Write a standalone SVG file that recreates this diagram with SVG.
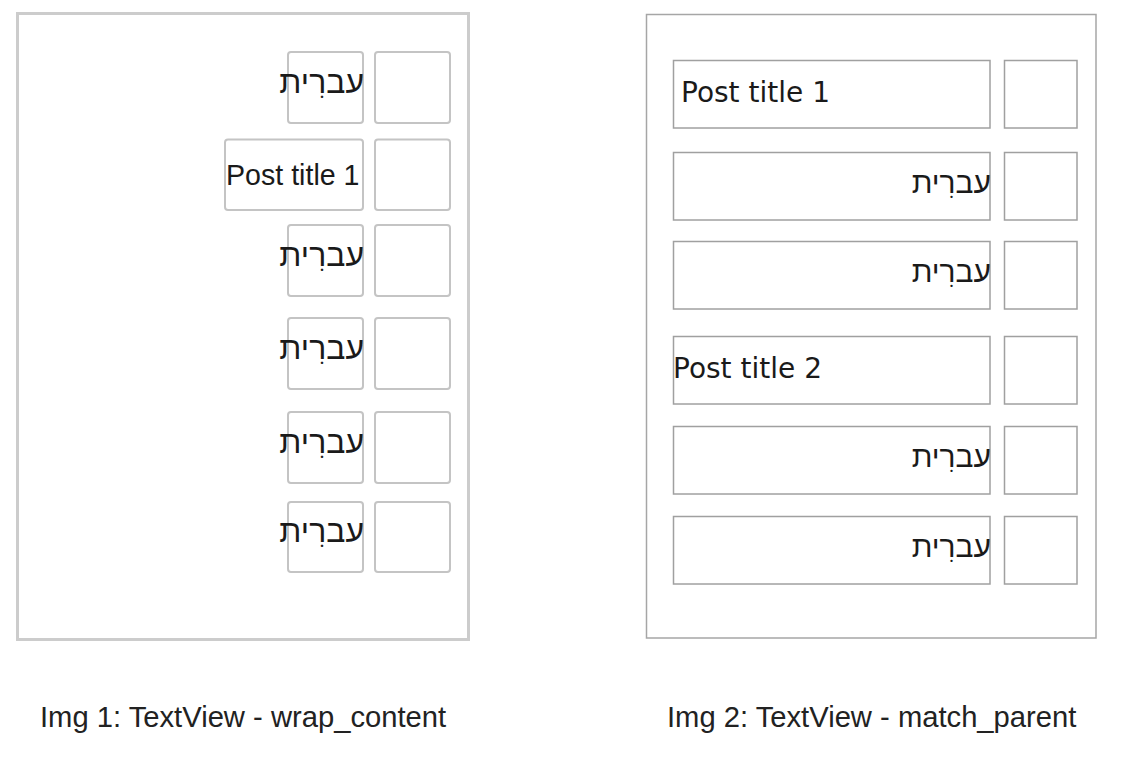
<svg xmlns="http://www.w3.org/2000/svg" width="1130" height="762" viewBox="0 0 1130 762">
  <style>
    .frame1 { fill: #ffffff; stroke: #cccccc; stroke-width: 3; }
    .frame2 { fill: #ffffff; stroke: #a6a6a6; stroke-width: 1.5; }
    .box1 { fill: #ffffff; stroke: #c4c4c4; stroke-width: 2; }
    .box2 { fill: #ffffff; stroke: #a0a0a0; stroke-width: 1.5; }
    .t1 { font-family: "Liberation Sans", Arial, sans-serif; font-size: 28.6px; fill: #1a1a1a; }
    .t2 { font-family: "DejaVu Sans", "Liberation Sans", sans-serif; font-size: 28px; fill: #1a1a1a; }
    .heb { font-family: "Liberation Sans", "DejaVu Sans", sans-serif; font-size: 32px; fill: #1a1a1a; text-anchor: end; }
    .heb2 { font-family: "Liberation Sans", "DejaVu Sans", sans-serif; font-size: 30px; fill: #1a1a1a; text-anchor: end; }
    .cap { font-family: "Liberation Sans", Arial, sans-serif; font-size: 29.2px; fill: #222222; }
  </style>
  <rect width="1130" height="762" fill="#ffffff"/>

  <!-- Left screen: wrap_content -->
  <g id="screen1">
    <rect class="frame1" x="17.5" y="13.5" width="451" height="626"/>
    <g id="s1-row1">
      <rect class="box1" x="288" y="52" width="75" height="71" rx="3"/>
      <rect class="box1" x="375" y="52" width="75" height="71" rx="3"/>
      <text class="heb" x="364" y="93">עברִית</text>
    </g>
    <g id="s1-row2">
      <rect class="box1" x="225" y="139.5" width="138" height="70.5" rx="3"/>
      <rect class="box1" x="375" y="139.5" width="75" height="70.5" rx="3"/>
      <text class="t1" x="226" y="185">Post title 1</text>
    </g>
    <g id="s1-row3">
      <rect class="box1" x="288" y="225" width="75" height="71" rx="3"/>
      <rect class="box1" x="375" y="225" width="75" height="71" rx="3"/>
      <text class="heb" x="364" y="266">עברִית</text>
    </g>
    <g id="s1-row4">
      <rect class="box1" x="288" y="318" width="75" height="71" rx="3"/>
      <rect class="box1" x="375" y="318" width="75" height="71" rx="3"/>
      <text class="heb" x="364" y="359">עברִית</text>
    </g>
    <g id="s1-row5">
      <rect class="box1" x="288" y="412" width="75" height="71" rx="3"/>
      <rect class="box1" x="375" y="412" width="75" height="71" rx="3"/>
      <text class="heb" x="364" y="453">עברִית</text>
    </g>
    <g id="s1-row6">
      <rect class="box1" x="288" y="502" width="75" height="70" rx="3"/>
      <rect class="box1" x="375" y="502" width="75" height="70" rx="3"/>
      <text class="heb" x="364" y="542">עברִית</text>
    </g>
  </g>

  <!-- Right screen: match_parent -->
  <g id="screen2">
    <rect class="frame2" x="646.5" y="14.5" width="449.5" height="623.5"/>
    <g id="s2-row1">
      <rect class="box2" x="673.5" y="60.5" width="316.5" height="67.5"/>
      <rect class="box2" x="1004.5" y="60.5" width="72.5" height="67.5"/>
      <text class="t2" x="681" y="102">Post title 1</text>
    </g>
    <g id="s2-row2">
      <rect class="box2" x="673.5" y="152.5" width="316.5" height="67.5"/>
      <rect class="box2" x="1004.5" y="152.5" width="72.5" height="67.5"/>
      <text class="heb2" x="991" y="193">עברִית</text>
    </g>
    <g id="s2-row3">
      <rect class="box2" x="673.5" y="241.5" width="316.5" height="67.5"/>
      <rect class="box2" x="1004.5" y="241.5" width="72.5" height="67.5"/>
      <text class="heb2" x="991" y="282">עברִית</text>
    </g>
    <g id="s2-row4">
      <rect class="box2" x="673.5" y="336.5" width="316.5" height="67.5"/>
      <rect class="box2" x="1004.5" y="336.5" width="72.5" height="67.5"/>
      <text class="t2" x="673" y="378">Post title 2</text>
    </g>
    <g id="s2-row5">
      <rect class="box2" x="673.5" y="426.5" width="316.5" height="67.5"/>
      <rect class="box2" x="1004.5" y="426.5" width="72.5" height="67.5"/>
      <text class="heb2" x="991" y="467">עברִית</text>
    </g>
    <g id="s2-row6">
      <rect class="box2" x="673.5" y="516.5" width="316.5" height="67.5"/>
      <rect class="box2" x="1004.5" y="516.5" width="72.5" height="67.5"/>
      <text class="heb2" x="991" y="557">עברִית</text>
    </g>
  </g>

  <g id="connectors"></g>

  <!-- Captions -->
  <g id="captions">
    <text class="cap" x="40" y="727">Img 1: TextView - wrap_content</text>
    <text class="cap" x="667" y="727">Img 2: TextView - match_parent</text>
  </g>
</svg>
